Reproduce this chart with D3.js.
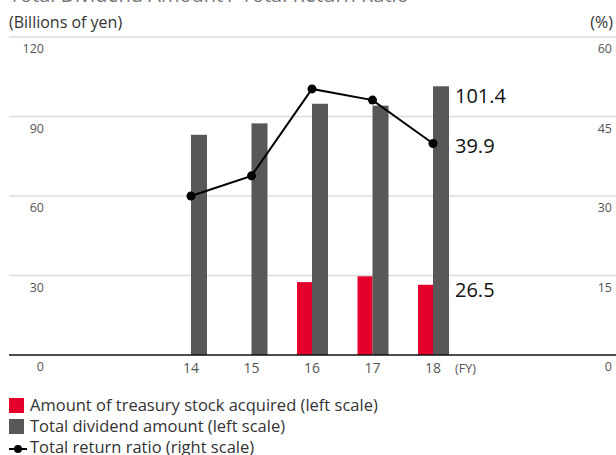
<!DOCTYPE html>
<html>
<head>
<meta charset="utf-8">
<script src="https://cdn.jsdelivr.net/npm/d3@7/dist/d3.min.js"></script>
<style>
  html, body { margin: 0; padding: 0; background: #fff; }
  svg { display: block; font-family: "Open Sans", "Noto Sans", sans-serif; }
</style>
</head>
<body>
<svg id="chart" width="616" height="455"></svg>
<script>
// Fiscal years and series (billions of yen / %)
const categories = ["14", "15", "16", "17", "18"];
const treasuryStock = [null, null, 27.5, 29.7, 26.5];
const totalDividend = [83.1, 87.4, 94.8, 94.1, 101.4];
const totalReturnRatio = [30.0, 33.8, 50.2, 48.1, 39.9];
const leftTicks = [0, 30, 60, 90, 120];
const rightTicks = [0, 15, 30, 45, 60];
const legendItems = [
  "Amount of treasury stock acquired (left scale)",
  "Total dividend amount (left scale)",
  "Total return ratio (right scale)"
];

const RED = "#e4002b", GREY = "#595757";
const svg = d3.select("#chart");

const x = d3.scalePoint().domain(categories).range([191, 433]);
const yL = d3.scaleLinear().domain([0, 120]).range([355, 37]);
const yR = d3.scaleLinear().domain([0, 60]).range([355, 37]);
const gridLeft = 9, gridRight = 616;

// Title (sits above the visible area)
svg.append("text").attr("x", 9).attr("y", 2)
  .attr("font-size", 20).attr("fill", "#777")
  .text("Total Dividend Amount / Total Return Ratio");

// Unit captions
svg.append("text").attr("x", 9).attr("y", 28)
  .attr("font-size", 16).attr("fill", "#333").text("(Billions of yen)");
svg.append("text").attr("x", 613).attr("y", 28).attr("text-anchor", "end")
  .attr("font-size", 16).attr("fill", "#333").text("(%)");

// Gridlines
svg.append("g").selectAll("line").data(leftTicks.filter(d => d > 0)).join("line")
  .attr("x1", gridLeft).attr("x2", gridRight)
  .attr("y1", d => yL(d)).attr("y2", d => yL(d))
  .attr("stroke", "#dcdcdc").attr("stroke-width", 1.5);

// Left axis labels (below each gridline)
svg.append("g").selectAll("text").data(leftTicks).join("text")
  .attr("x", 44).attr("y", d => yL(d) + 16).attr("text-anchor", "end")
  .attr("font-size", 12.5).attr("fill", "#555").text(d => d);

// Right axis labels
svg.append("g").selectAll("text").data(rightTicks).join("text")
  .attr("x", 612).attr("y", d => yR(d) + 16).attr("text-anchor", "end")
  .attr("font-size", 12.5).attr("fill", "#555").text(d => d);

// Bars: treasury stock left of the category centre, dividends right of it
const bars = svg.append("g");
bars.selectAll("rect.treasury")
  .data(categories.map((c, i) => ({c, v: treasuryStock[i]})).filter(d => d.v != null))
  .join("rect").attr("class", "treasury")
  .attr("x", d => x(d.c) - 15).attr("width", 15)
  .attr("y", d => yL(d.v)).attr("height", d => yL(0) - yL(d.v))
  .attr("fill", RED);
bars.selectAll("rect.dividend")
  .data(categories.map((c, i) => ({c, v: totalDividend[i]})))
  .join("rect").attr("class", "dividend")
  .attr("x", d => x(d.c)).attr("width", 16)
  .attr("y", d => yL(d.v)).attr("height", d => yL(0) - yL(d.v))
  .attr("fill", GREY);

// Baseline
svg.append("line").attr("x1", gridLeft).attr("x2", gridRight)
  .attr("y1", yL(0)).attr("y2", yL(0))
  .attr("stroke", "#111").attr("stroke-width", 1.6);

// Total return ratio line
const pts = categories.map((c, i) => ({c, v: totalReturnRatio[i]}));
svg.append("path").datum(pts)
  .attr("d", d3.line().x(d => x(d.c)).y(d => yR(d.v)))
  .attr("fill", "none").attr("stroke", "#000").attr("stroke-width", 2);
svg.append("g").selectAll("circle").data(pts).join("circle")
  .attr("cx", d => x(d.c)).attr("cy", d => yR(d.v)).attr("r", 4.5)
  .attr("fill", "#000");

// Category labels
svg.append("g").selectAll("text").data(categories).join("text")
  .attr("x", d => x(d)).attr("y", 373).attr("text-anchor", "middle")
  .attr("font-size", 14).attr("fill", "#555").text(d => d);
svg.append("text").attr("x", 455).attr("y", 373)
  .attr("font-size", 12.5).attr("fill", "#555").text("(FY)");

// Value labels for the latest year
const last = categories.length - 1;
const lx = x(categories[last]) + 22;
const valueLabels = [
  {v: totalDividend[last], y: yL(totalDividend[last]) + 17},
  {v: totalReturnRatio[last], y: yR(totalReturnRatio[last]) + 9},
  {v: treasuryStock[last], y: yL(treasuryStock[last]) + 12}
];
svg.append("g").selectAll("text").data(valueLabels).join("text")
  .attr("x", lx).attr("y", d => d.y)
  .attr("font-size", 20).attr("fill", "#111").text(d => d.v.toFixed(1));

// Legend
const lg = svg.append("g");
const rowY = [411, 432, 453];
lg.append("rect").attr("x", 9).attr("y", rowY[0] - 13).attr("width", 15).attr("height", 15).attr("fill", RED);
lg.append("rect").attr("x", 9).attr("y", rowY[1] - 13).attr("width", 15).attr("height", 15).attr("fill", GREY);
lg.append("line").attr("x1", 9).attr("x2", 27).attr("y1", rowY[2] - 4).attr("y2", rowY[2] - 4)
  .attr("stroke", "#000").attr("stroke-width", 2);
lg.append("circle").attr("cx", 18).attr("cy", rowY[2] - 4).attr("r", 4).attr("fill", "#000");
lg.selectAll("text").data(legendItems).join("text")
  .attr("x", 30).attr("y", (d, i) => rowY[i])
  .attr("font-size", 16.5).attr("fill", "#333").text(d => d);
</script>
</body>
</html>
